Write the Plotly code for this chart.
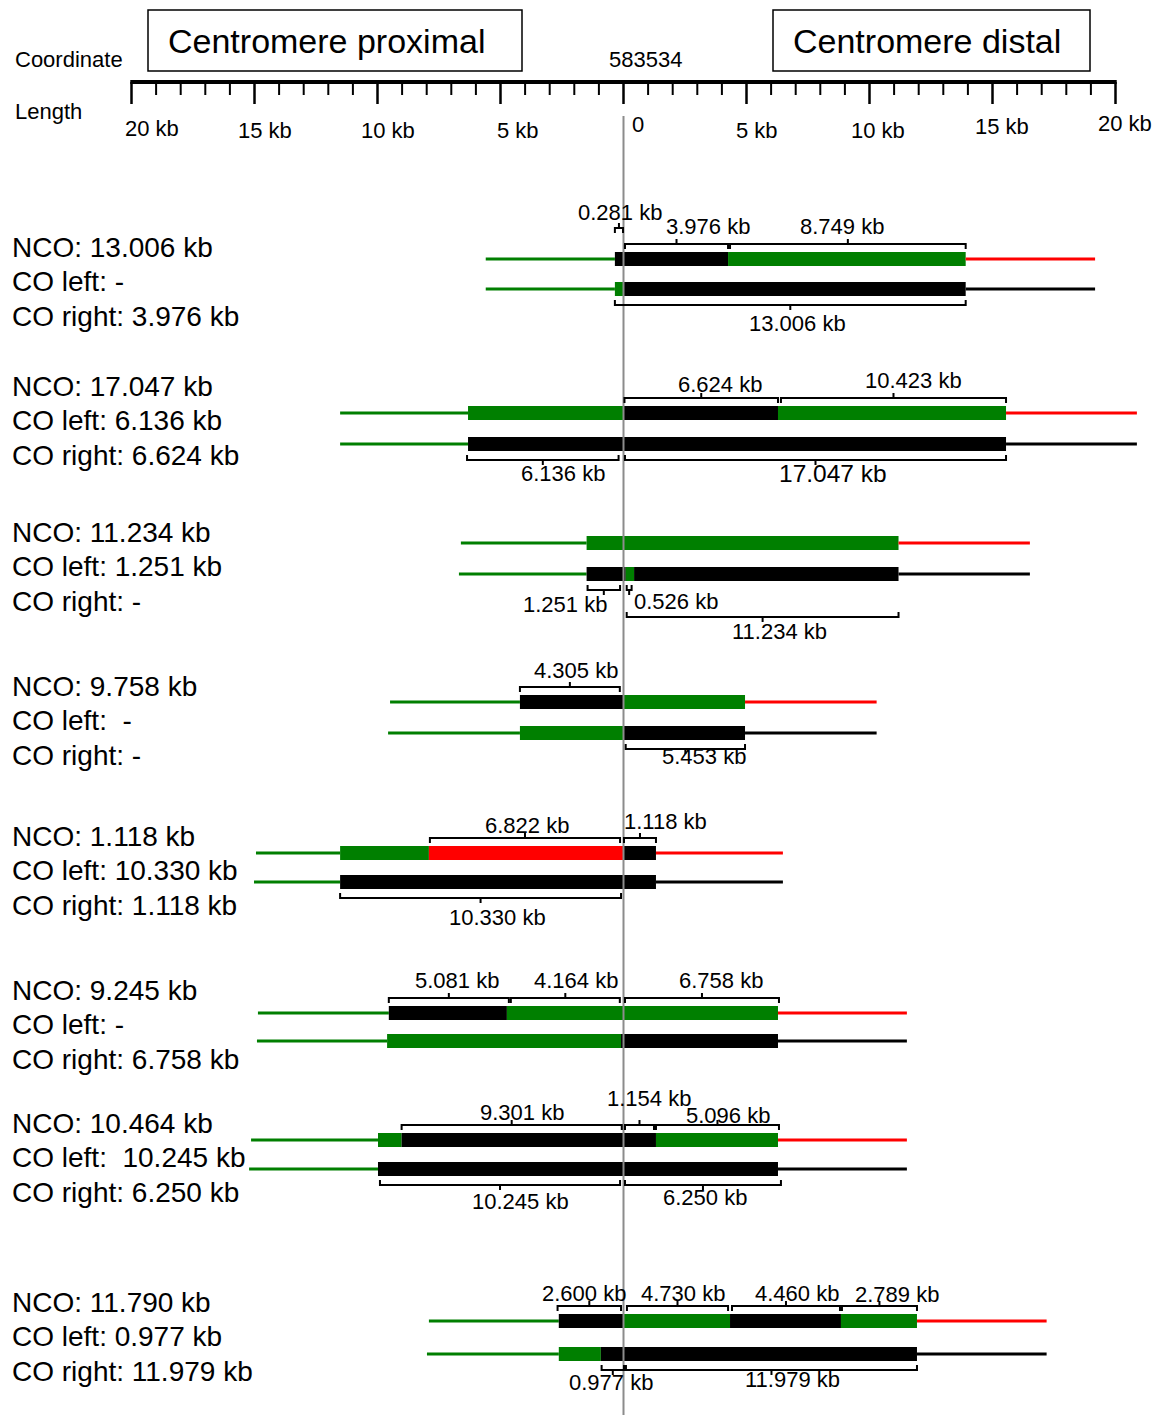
import plotly.graph_objects as go

# ---------------- data ----------------
AXIS_TICKS_KB = list(range(-20, 21))
AXIS_LABEL_KB = [-20, -15, -10, -5, 0, 5, 10, 15, 20]
AXIS_LABELS = ["20 kb", "15 kb", "10 kb", "5 kb", "0", "5 kb", "10 kb", "15 kb", "20 kb"]
COORD_LABEL = "583534"

# genotype codes: G = green parent, B = black parent, R = red parent
# segment boundaries in kb relative to coordinate 583534 (first/last segments are flanks)
e1_sum = ["NCO: 13.006 kb", "CO left: -", "CO right: 3.976 kb"]
e1_top = [-5.60, -0.35, 4.25, 13.91, 19.17]
e1_top_gt = ["G", "B", "G", "R"]
e1_bot = [-5.60, -0.35, 0.0, 13.91, 19.17]
e1_bot_gt = ["G", "G", "B", "B"]
e1_br = [(-0.35, -0.02, "0.281 kb"), (0.06, 4.25, "3.976 kb"), (4.33, 13.91, "8.749 kb"),
         (-0.35, 13.91, "13.006 kb")]

e2_sum = ["NCO: 17.047 kb", "CO left: 6.136 kb", "CO right: 6.624 kb"]
e2_top = [-11.52, -6.32, 0.0, 6.28, 15.55, 20.87]
e2_top_gt = ["G", "G", "B", "G", "R"]
e2_bot = [-11.52, -6.32, 15.55, 20.87]
e2_bot_gt = ["G", "B", "B"]
e2_br = [(0.04, 6.28, "6.624 kb"), (6.40, 15.55, "10.423 kb"), (-6.36, -0.20, "6.136 kb"),
         (0.06, 15.55, "17.047 kb")]

e3_sum = ["NCO: 11.234 kb", "CO left: 1.251 kb", "CO right: -"]
e3_top = [-6.61, -1.50, 11.18, 16.52]
e3_top_gt = ["G", "G", "R"]
e3_bot = [-6.69, -1.50, 0.09, 0.43, 11.18, 16.52]
e3_bot_gt = ["G", "B", "G", "B", "B"]
e3_br = [(-1.46, -0.14, "1.251 kb"), (0.13, 0.33, "0.526 kb"), (0.13, 11.18, "11.234 kb")]

e4_sum = ["NCO: 9.758 kb", "CO left:  -", "CO right: -"]
e4_top = [-9.49, -4.21, 0.0, 4.94, 10.29]
e4_top_gt = ["G", "B", "G", "R"]
e4_bot = [-9.57, -4.21, 0.0, 4.94, 10.29]
e4_bot_gt = ["G", "G", "B", "B"]
e4_br = [(-4.21, -0.15, "4.305 kb"), (0.09, 4.94, "5.453 kb")]

e5_sum = ["NCO: 1.118 kb", "CO left: 10.330 kb", "CO right: 1.118 kb"]
e5_top = [-14.94, -11.52, -7.91, 0.0, 1.32, 6.48]
e5_top_gt = ["G", "G", "R", "B", "R"]
e5_bot = [-15.02, -11.52, 1.32, 6.48]
e5_bot_gt = ["G", "B", "B"]
e5_br = [(-7.87, -0.14, "6.822 kb"), (0.02, 1.32, "1.118 kb"), (-11.52, -0.10, "10.330 kb")]

e6_sum = ["NCO: 9.245 kb", "CO left: -", "CO right: 6.758 kb"]
e6_top = [-14.86, -9.54, -4.74, 6.28, 11.52]
e6_top_gt = ["G", "B", "G", "R"]
e6_bot = [-14.90, -9.61, -0.10, 6.28, 11.52]
e6_bot_gt = ["G", "G", "B", "B"]
e6_br = [(-9.54, -4.66, "5.081 kb"), (-4.58, -0.15, "4.164 kb"), (0.06, 6.32, "6.758 kb")]

e7_sum = ["NCO: 10.464 kb", "CO left:  10.245 kb", "CO right: 6.250 kb"]
e7_top = [-15.14, -9.98, -9.02, 1.32, 6.28, 11.52]
e7_top_gt = ["G", "G", "B", "G", "R"]
e7_bot = [-15.22, -9.98, 6.28, 11.52]
e7_bot_gt = ["G", "B", "B"]
e7_br = [(-9.02, -0.07, "9.301 kb"), (0.06, 1.24, "1.154 kb"), (1.32, 6.32, "5.096 kb"),
         (-9.90, -0.14, "10.245 kb"), (0.06, 6.40, "6.250 kb")]

e8_sum = ["NCO: 11.790 kb", "CO left: 0.977 kb", "CO right: 11.979 kb"]
e8_top = [-7.91, -2.63, 0.0, 4.33, 8.84, 11.93, 17.20]
e8_top_gt = ["G", "B", "G", "B", "G", "R"]
e8_bot = [-7.99, -2.63, -0.92, 11.93, 17.20]
e8_bot_gt = ["G", "G", "B", "B"]
e8_br = [(-2.68, -0.10, "2.600 kb"), (0.14, 4.25, "4.730 kb"), (4.41, 8.80, "4.460 kb"),
         (8.88, 11.93, "2.789 kb"), (-0.89, 0.02, "0.977 kb"), (0.10, 11.93, "11.979 kb")]

# ---------------- layout (positions / styles) ----------------
W, H = 1173, 1415
PX_PER_KB = 24.6
X0_PX = 623.5
X_RANGE = [-X0_PX / PX_PER_KB, (W - X0_PX) / PX_PER_KB]

ROW_Y = [(259, 289), (413, 444), (543, 574), (702, 733), (853, 882), (1013, 1041), (1140, 1169), (1321, 1354)]
SUM_Y = [247, 386, 532, 686, 836, 990, 1123, 1302]
SUM_DY = 34.5

# bracket layout: (row, direction, level, label_x_kb, label_y_px)
e1_br_pos = [("t", "up", 1, -0.14, 212), ("t", "up", 0, 3.43, 226), ("t", "up", 0, 8.88, 226),
             ("b", "down", 0, 7.09, 323)]
e2_br_pos = [("t", "up", 0, 3.92, 384), ("t", "up", 0, 11.77, 380), ("b", "down", 0, -2.46, 473),
             ("b", "down", 0, 8.52, 473)]
e3_br_pos = [("b", "down", 0, -2.38, 604), ("b", "down", 0, 2.13, 601), ("b", "down", 1, 6.36, 631)]
e4_br_pos = [("t", "up", 0, -1.93, 670), ("b", "down", 0, 3.27, 756)]
e5_br_pos = [("t", "up", 0, -3.92, 825), ("t", "up", 0, 1.69, 821), ("b", "down", 0, -5.14, 917)]
e6_br_pos = [("t", "up", 0, -6.77, 980), ("t", "up", 0, -1.93, 980), ("t", "up", 0, 3.96, 980)]
e7_br_pos = [("t", "up", 0, -4.13, 1112), ("t", "up", 0, 1.04, 1098), ("t", "up", 0, 4.25, 1115),
             ("b", "down", 0, -4.17, 1201), ("b", "down", 0, 3.31, 1197)]
e8_br_pos = [("t", "up", 0, -1.61, 1293), ("t", "up", 0, 2.42, 1293), ("t", "up", 0, 7.05, 1293),
             ("t", "up", 0, 11.12, 1294), ("b", "down", 0, -0.51, 1382), ("b", "down", 0, 6.85, 1379)]

EVENTS = [
    (e1_sum, e1_top, e1_top_gt, e1_bot, e1_bot_gt, e1_br, e1_br_pos),
    (e2_sum, e2_top, e2_top_gt, e2_bot, e2_bot_gt, e2_br, e2_br_pos),
    (e3_sum, e3_top, e3_top_gt, e3_bot, e3_bot_gt, e3_br, e3_br_pos),
    (e4_sum, e4_top, e4_top_gt, e4_bot, e4_bot_gt, e4_br, e4_br_pos),
    (e5_sum, e5_top, e5_top_gt, e5_bot, e5_bot_gt, e5_br, e5_br_pos),
    (e6_sum, e6_top, e6_top_gt, e6_bot, e6_bot_gt, e6_br, e6_br_pos),
    (e7_sum, e7_top, e7_top_gt, e7_bot, e7_bot_gt, e7_br, e7_br_pos),
    (e8_sum, e8_top, e8_top_gt, e8_bot, e8_bot_gt, e8_br, e8_br_pos),
]

COLORS = {"G": "#007f00", "B": "#000000", "R": "#ff0000"}
FONT = "Liberation Sans, Arial, Helvetica, sans-serif"
BAR_HALF = 7
THIN_W = 3
BR_OFF = {("up", 0): -15, ("up", 1): -31, ("down", 0): 16, ("down", 1): 43}
BR_FONT = 22
BR_FONT_BIG = {"17.047 kb": 24.5}

shapes = []
annotations = []


def px_paper(px):
    return px / W


# axis
shapes.append(dict(type="line", xref="x", yref="y", x0=AXIS_TICKS_KB[0] - 0.05, x1=AXIS_TICKS_KB[-1] + 0.05,
                   y0=82, y1=82, line=dict(color="black", width=4)))
for t in AXIS_TICKS_KB:
    major = t % 5 == 0
    shapes.append(dict(type="line", xref="x", yref="y", x0=t, x1=t, y0=82, y1=104 if major else 95,
                       line=dict(color="black", width=2.5 if major else 2)))
AXIS_LABEL_DX = [20, 10, 10, 17, 14, 10, 8.5, 9.5, 9.5]
AXIS_LABEL_Y = [128, 130, 130, 130, 124, 130, 130, 126, 123]
for kb, lab, dx, ly in zip(AXIS_LABEL_KB, AXIS_LABELS, AXIS_LABEL_DX, AXIS_LABEL_Y):
    annotations.append(dict(x=kb + dx / PX_PER_KB, y=ly, xref="x", yref="y", text=lab, showarrow=False,
                            xanchor="center", yanchor="middle", font=dict(size=22, color="black", family=FONT)))

annotations.append(dict(x=px_paper(13), y=59, xref="paper", yref="y", text="Coordinate", showarrow=False,
                        xanchor="left", yanchor="middle", font=dict(size=22, color="black", family=FONT)))
annotations.append(dict(x=px_paper(13), y=111, xref="paper", yref="y", text="Length", showarrow=False,
                        xanchor="left", yanchor="middle", font=dict(size=22, color="black", family=FONT)))
annotations.append(dict(x=0.9, y=59, xref="x", yref="y", text=COORD_LABEL, showarrow=False,
                        xanchor="center", yanchor="middle", font=dict(size=22, color="black", family=FONT)))

# title boxes
for (x0p, x1p, tx, txt) in [(148, 522, 326, "Centromere proximal"), (773, 1090, 927, "Centromere distal")]:
    shapes.append(dict(type="rect", xref="paper", yref="y", x0=px_paper(x0p), x1=px_paper(x1p), y0=10, y1=71,
                       line=dict(color="black", width=1.5), fillcolor="rgba(0,0,0,0)"))
    annotations.append(dict(x=px_paper(tx), y=41, xref="paper", yref="y", text=txt,
                            showarrow=False, xanchor="center", yanchor="middle",
                            font=dict(size=34, color="black", family=FONT)))

# gray reference line at coordinate 0
shapes.append(dict(type="line", xref="x", yref="y", x0=0, x1=0, y0=116, y1=H,
                   line=dict(color="#8c8c8c", width=2), layer="above"))


def draw_row(bounds, gts, y):
    n = len(gts)
    for i in range(n):
        x0, x1 = bounds[i], bounds[i + 1]
        col = COLORS[gts[i]]
        if i == 0 or i == n - 1:
            shapes.append(dict(type="line", xref="x", yref="y", x0=x0, x1=x1, y0=y, y1=y,
                               line=dict(color=col, width=THIN_W), layer="below"))
        else:
            shapes.append(dict(type="rect", xref="x", yref="y", x0=x0, x1=x1, y0=y - BAR_HALF,
                               y1=y + BAR_HALF, fillcolor=col, line=dict(width=0), layer="below"))


for ei, (summ, top, top_gt, bot, bot_gt, brs, br_pos) in enumerate(EVENTS):
    yt, yb = ROW_Y[ei]
    draw_row(top, top_gt, yt)
    draw_row(bot, bot_gt, yb)
    for j, line in enumerate(summ):
        annotations.append(dict(x=px_paper(10), y=SUM_Y[ei] + j * SUM_DY, xref="paper", yref="y",
                                text=line.replace("  ", " \u00a0"), showarrow=False, xanchor="left",
                                yanchor="middle", font=dict(size=28, color="black", family=FONT)))
    for (lo, hi, txt), (row, d, lvl, lx, ly) in zip(brs, br_pos):
        ry = yt if row == "t" else yb
        yl = ry + BR_OFF[(d, lvl)]
        sgn = -1 if d == "up" else 1
        yend = yl - sgn * 5
        ytip = yl + sgn * 5
        mid = (lo + hi) / 2
        path = (f"M {lo},{yend} L {lo},{yl} L {hi},{yl} L {hi},{yend} "
                f"M {mid},{yl} L {mid},{ytip}")
        shapes.append(dict(type="path", xref="x", yref="y", path=path,
                           line=dict(color="black", width=2)))
        annotations.append(dict(x=lx, y=ly, xref="x", yref="y", text=txt, showarrow=False,
                                xanchor="center", yanchor="middle",
                                font=dict(size=BR_FONT_BIG.get(txt, BR_FONT), color="black", family=FONT)))

fig = go.Figure()
fig.add_trace(go.Scatter(x=[X_RANGE[0]], y=[H], mode="markers", marker=dict(opacity=0),
                         hoverinfo="skip", showlegend=False))
fig.update_layout(
    width=W, height=H, margin=dict(l=0, r=0, t=0, b=0),
    paper_bgcolor="white", plot_bgcolor="white",
    xaxis=dict(range=X_RANGE, visible=False, fixedrange=True),
    yaxis=dict(range=[H, 0], visible=False, fixedrange=True),
    shapes=shapes, annotations=annotations, showlegend=False,
)
fig.write_html("out.html", config={"displayModeBar": False},
               post_script="document.body.style.margin='0';document.body.style.overflow='hidden';")
